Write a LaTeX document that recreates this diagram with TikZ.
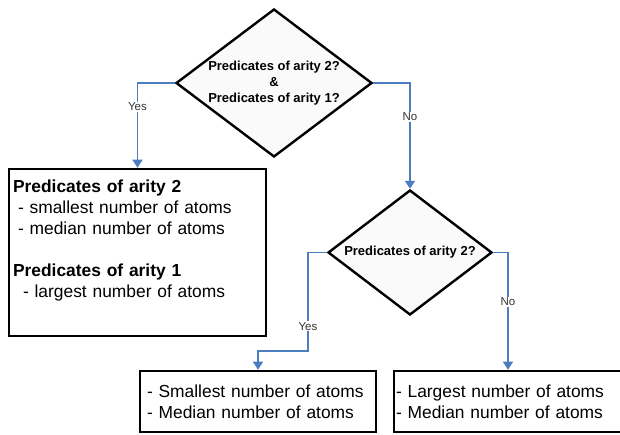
\documentclass[tikz,border=0pt]{standalone}
\usepackage{fontspec}
\setmainfont{Liberation Sans}
\usepackage{tikz}
\usetikzlibrary{shapes.geometric, arrows.meta, positioning}
\definecolor{flowblue}{HTML}{4A7EC0}

\begin{document}
\begin{tikzpicture}[x=1pt, y=-1pt,
		decision/.style={diamond, draw, line width=2.4pt, fill=gray!4, inner sep=0pt, align=center, font=\fontsize{13}{16}\selectfont\bfseries},
		outcome/.style={rectangle, draw, line width=2.6pt, align=left, font=\fontsize{17.4}{21}\selectfont},
		flow/.style={draw=flowblue, line width=1.6pt, -{Triangle[length=8pt,width=10pt]}},
		lbl/.style={fill=white, inner sep=1pt, text=black!80, font=\fontsize{11.5}{13}\selectfont}]
		\useasboundingbox (0,0) rectangle (620,435);
		% Decisions
		\node[decision, minimum width=196pt, minimum height=148pt, aspect=1.32] (q1) at (274,83)
			{Predicates of arity 2?\\ \&\\ Predicates of arity 1?};
		\node[decision, minimum width=164pt, minimum height=125pt, aspect=1.31] (q2) at (410,252.5)
			{Predicates of arity 2?};
		% Outcomes
		\node[outcome, minimum width=257pt, minimum height=167pt, inner xsep=4pt, text width=249pt] (both) at (137.5,252.5)
			{\textbf{Predicates of arity 2}\\
			\hspace*{5pt}- smallest number of atoms\\
			\hspace*{5pt}- median number of atoms\\[21pt]
			\textbf{Predicates of arity 1}\\
			\hspace*{10pt}- largest number of atoms\\
			\strut};
		\node[outcome, minimum width=236pt, minimum height=61pt, inner xsep=7pt, text width=222pt] (onlytwo) at (258,401.5)
			{- Smallest number of atoms\\- Median number of atoms};
		\node[outcome, minimum width=228pt, minimum height=61pt, inner xsep=2pt, text width=224pt] (onlyone) at (508,401.5)
			{- Largest number of atoms\\- Median number of atoms};
		% Branches
		\coordinate (bend) at (308,351);
		\draw[flow] (q1.west) -| node[lbl, pos=0.64] {Yes} (both.north);
		\draw[flow] (q1.east) -| node[lbl, pos=0.66] {No} (q2.north);
		\draw[flow] (q2.west) -| node[lbl, pos=0.875] {Yes} (bend) -| (onlytwo.north);
		\draw[flow] (q2.east) -| node[lbl, pos=0.71] {No} (onlyone.north);
	\end{tikzpicture}
\end{document}
